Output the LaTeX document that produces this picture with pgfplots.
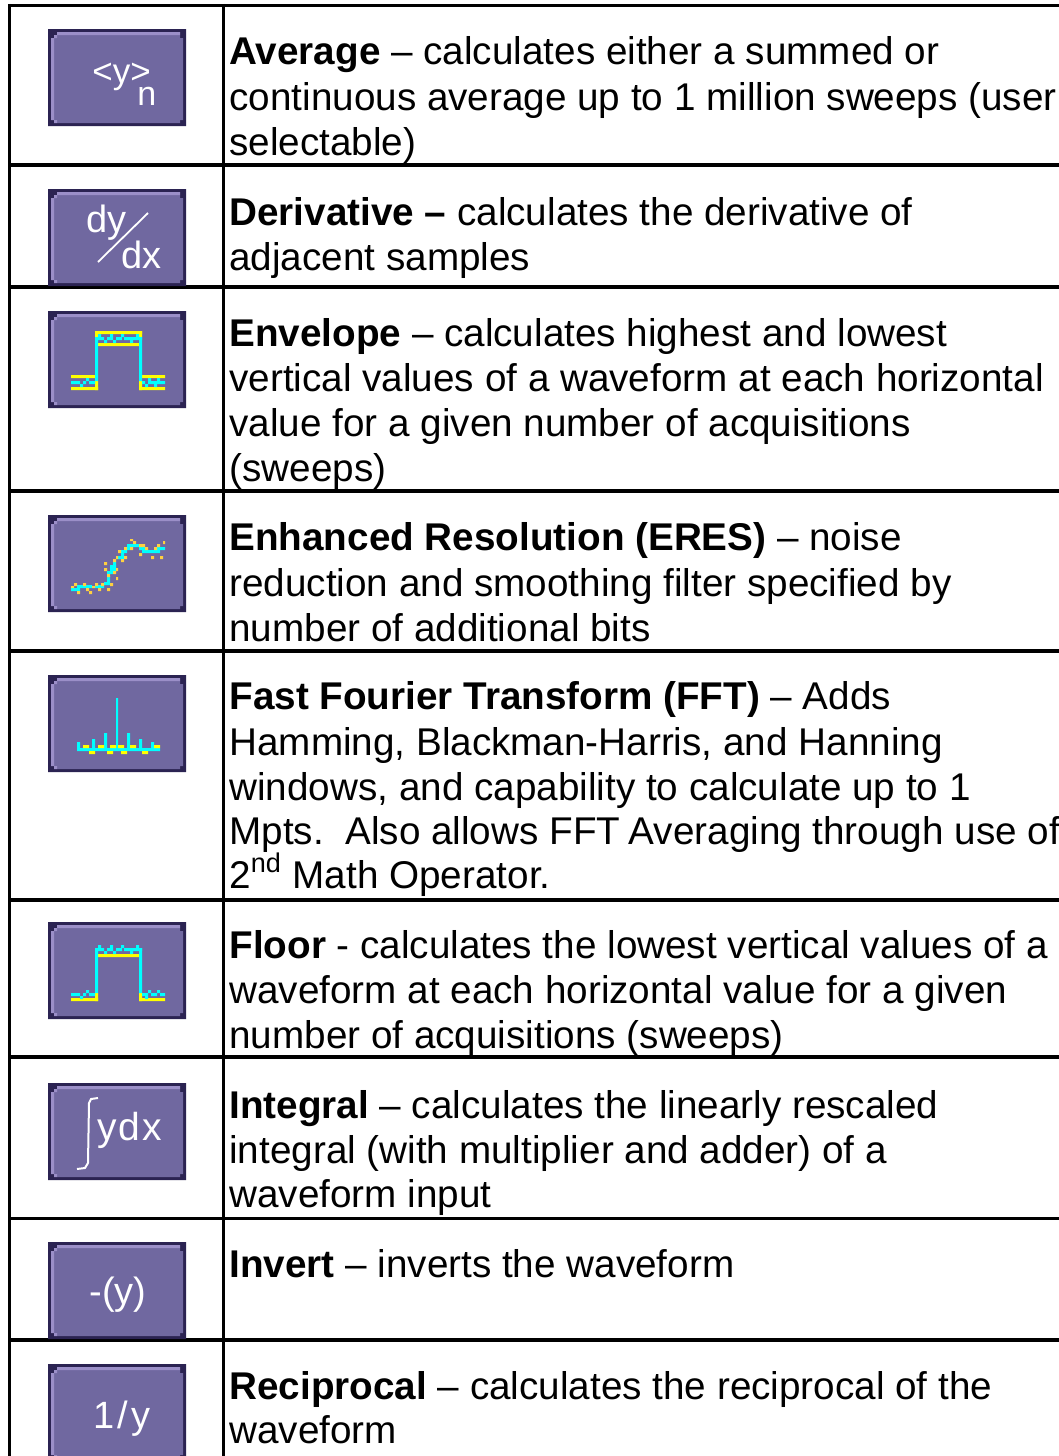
\documentclass[border=0pt]{standalone}
\usepackage{fontspec}
\setmainfont{Liberation Sans}
\usepackage{pgfplots}
\pgfplotsset{compat=1.18}
\definecolor{bdark}{RGB}{43,35,82}
\definecolor{blight}{RGB}{155,143,200}
\definecolor{bbody}{RGB}{112,104,160}
\definecolor{ccy}{RGB}{0,255,255}
\definecolor{cye}{RGB}{255,255,0}
\definecolor{cor}{RGB}{255,208,64}
\def\ox{0}\def\oy{0}\def\s{1}
\newcommand\R[5]{%
 \pgfmathsetmacro\xa{\ox+\s*#2}\pgfmathsetmacro\xb{\ox+\s*#3}%
 \pgfmathsetmacro\ya{\oy+\s*#4}\pgfmathsetmacro\yb{\oy+\s*#5}%
 \edef\temp{\noexpand\addplot[forget plot,draw=none,fill=#1] coordinates {(\xa,\ya)(\xb,\ya)(\xb,\yb)(\xa,\yb)(\xa,\ya)};}\temp}
\newcommand\Btn[1]{%
 \def\ox{0}\def\oy{#1}\def\s{1}%
 \R{bdark}{48}{186}{0}{97}%
 \R{bbody}{57}{180}{6}{9}%
 \R{bbody}{54}{183}{9}{91}%
 \R{bbody}{57}{180}{91}{94}%
 \R{blight}{57}{180}{3}{6}%
 \R{blight}{54}{57}{6}{9}%
 \R{blight}{51}{54}{9}{91}%
 \R{blight}{54}{57}{91}{94}%
}
\newcommand\TL[2]{\node[anchor=base west,inner sep=0pt,font=\fontsize{19.33pt}{22.5pt}\selectfont] at (axis cs:229,#1) {#2};}
\newcommand\IT[4]{\node[anchor=base west,inner sep=0pt,text=white,font=\fontsize{#3pt}{#3pt}\selectfont] at (axis cs:#1,#2) {#4};}
\pgfplotsset{tline/.style={forget plot,black,line width=1.75pt},wline/.style={forget plot,white,line width=0.9pt}}
\begin{document}
\begin{tikzpicture}
\useasboundingbox (0,0) rectangle (529.5pt,728pt);
\begin{axis}[at={(0,0)},anchor=south west,width=529.5pt,height=728pt,scale only axis,
 xmin=0,xmax=1059,ymin=0,ymax=1456,y dir=reverse,hide axis,clip=true]
% table rules
\addplot[tline] coordinates {(8,5.5)(1059,5.5)};
\addplot[tline] coordinates {(8,165)(1059,165)};
\addplot[tline] coordinates {(8,287)(1059,287)};
\addplot[tline] coordinates {(8,491)(1059,491)};
\addplot[tline] coordinates {(8,651)(1059,651)};
\addplot[tline] coordinates {(8,900)(1059,900)};
\addplot[tline] coordinates {(8,1057)(1059,1057)};
\addplot[tline] coordinates {(8,1218.5)(1059,1218.5)};
\addplot[tline] coordinates {(8,1340)(1059,1340)};
\addplot[tline] coordinates {(9.5,4)(9.5,1456)};
\addplot[tline] coordinates {(223.5,4)(223.5,1456)};
% buttons
\Btn{29}\Btn{189}\Btn{311}\Btn{515}\Btn{675}\Btn{922}\Btn{1083}\Btn{1242}\Btn{1364}
% icon 1
\IT{92}{83}{17.5}{<y>}
\IT{137}{105}{17}{n}
% icon 2
\IT{86}{232}{19}{dy}
\IT{121}{268}{19}{dx}
\addplot[wline] coordinates {(98,262)(148,213)};
% icon 3 envelope
\def\ox{30}\def\oy{300}\def\s{0.33333}
\R{cye}{195}{336}{93}{102}\R{cye}{195}{204}{93}{111}\R{cye}{327}{336}{93}{111}
\R{cye}{204}{327}{129}{138}
\R{cye}{123}{195}{225}{234}\R{cye}{123}{204}{261}{270}\R{cye}{195}{204}{243}{270}
\R{cye}{336}{405}{225}{234}\R{cye}{327}{405}{261}{270}\R{cye}{327}{336}{243}{270}
\R{ccy}{195}{204}{111}{243}\R{ccy}{327}{336}{111}{243}
\R{ccy}{204}{213}{102}{111}\R{ccy}{240}{249}{102}{111}\R{ccy}{273}{282}{102}{111}\R{ccy}{318}{327}{102}{111}
\R{ccy}{195}{222}{111}{120}\R{ccy}{231}{249}{111}{120}\R{ccy}{258}{276}{111}{120}\R{ccy}{282}{336}{111}{120}
\R{ccy}{222}{231}{120}{129}\R{ccy}{249}{258}{120}{129}\R{ccy}{300}{309}{120}{129}
\R{ccy}{168}{177}{234}{243}
\R{ccy}{123}{150}{243}{252}\R{ccy}{159}{168}{243}{252}\R{ccy}{177}{195}{243}{252}
\R{ccy}{150}{159}{252}{261}
\R{ccy}{354}{363}{234}{243}\R{ccy}{381}{390}{234}{243}
\R{ccy}{336}{345}{243}{252}\R{ccy}{354}{405}{243}{252}
\R{ccy}{345}{354}{252}{261}\R{ccy}{372}{381}{252}{261}
% icon 4 ERES
\R{ccy}{123}{150}{864}{873}\R{ccy}{141}{186}{855}{864}\R{ccy}{195}{222}{855}{864}
\R{ccy}{222}{240}{846}{855}\R{ccy}{231}{240}{828}{846}\R{ccy}{231}{249}{813}{822}
\R{ccy}{240}{258}{795}{813}\R{ccy}{249}{258}{786}{795}\R{ccy}{258}{273}{768}{777}
\R{ccy}{264}{282}{768}{777}\R{ccy}{273}{282}{750}{768}\R{ccy}{282}{291}{750}{759}
\R{ccy}{291}{300}{741}{750}\R{ccy}{291}{327}{732}{741}\R{ccy}{327}{345}{741}{750}
\R{ccy}{336}{390}{750}{759}\R{ccy}{381}{405}{741}{750}
\R{cor}{123}{132}{858}{864}\R{cor}{132}{141}{849}{858}\R{cor}{159}{168}{849}{858}
\R{cor}{141}{150}{873}{882}\R{cor}{168}{177}{864}{873}\R{cor}{177}{186}{873}{882}
\R{cor}{186}{195}{858}{864}\R{cor}{195}{204}{849}{858}\R{cor}{204}{213}{864}{873}
\R{cor}{213}{222}{849}{858}\R{cor}{231}{240}{864}{873}\R{cor}{240}{249}{849}{858}
\R{cor}{258}{264}{831}{840}\R{cor}{231}{240}{822}{831}\R{cor}{222}{231}{804}{813}
\R{cor}{222}{231}{786}{795}\R{cor}{249}{258}{813}{822}\R{cor}{258}{264}{804}{813}
\R{cor}{249}{258}{777}{786}\R{cor}{258}{264}{768}{777}\R{cor}{264}{273}{750}{759}
\R{cor}{273}{282}{777}{786}\R{cor}{282}{291}{768}{777}\R{cor}{282}{291}{741}{750}
\R{cor}{300}{309}{741}{750}\R{cor}{300}{309}{717}{723}\R{cor}{309}{318}{723}{732}
\R{cor}{327}{345}{732}{741}\R{cor}{327}{336}{759}{768}\R{cor}{345}{354}{741}{750}
\R{cor}{363}{372}{768}{777}\R{cor}{372}{381}{741}{750}\R{cor}{381}{390}{732}{741}
\R{cor}{390}{399}{768}{777}\R{cor}{399}{405}{723}{732}
% icon 5 FFT
\def\oy{660}
\R{ccy}{141}{390}{264}{273}
\R{ccy}{141}{150}{246}{264}\R{ccy}{186}{195}{237}{264}\R{ccy}{222}{231}{219}{264}
\R{ccy}{258}{264}{114}{264}\R{ccy}{291}{300}{219}{264}\R{ccy}{327}{336}{237}{264}\R{ccy}{363}{372}{246}{264}
\R{cye}{159}{177}{255}{264}\R{cye}{204}{222}{255}{264}\R{cye}{240}{258}{255}{264}
\R{cye}{264}{282}{255}{264}\R{cye}{300}{318}{255}{264}\R{cye}{372}{390}{255}{264}
\R{cye}{177}{195}{273}{282}\R{cye}{231}{249}{273}{282}\R{cye}{273}{291}{273}{282}\R{cye}{336}{354}{273}{282}
% icon 6 floor
\R{cye}{204}{327}{882}{891}
\R{cye}{123}{204}{1014}{1023}\R{cye}{195}{204}{999}{1023}
\R{cye}{327}{405}{1014}{1023}\R{cye}{327}{336}{999}{1023}
\R{ccy}{195}{204}{864}{999}\R{ccy}{327}{336}{864}{999}
\R{ccy}{204}{213}{855}{864}\R{ccy}{240}{249}{855}{864}\R{ccy}{273}{282}{855}{864}\R{ccy}{318}{327}{855}{864}
\R{ccy}{195}{222}{864}{873}\R{ccy}{231}{249}{864}{873}\R{ccy}{258}{276}{864}{873}\R{ccy}{282}{336}{864}{873}
\R{ccy}{222}{231}{873}{882}\R{ccy}{249}{258}{873}{882}\R{ccy}{300}{309}{873}{882}
\R{ccy}{168}{177}{990}{999}
\R{ccy}{123}{150}{999}{1008}\R{ccy}{159}{168}{999}{1008}\R{ccy}{177}{195}{999}{1008}
\R{ccy}{150}{159}{1008}{1017}
\R{ccy}{354}{363}{990}{999}\R{ccy}{381}{390}{990}{999}
\R{ccy}{336}{354}{999}{1008}\R{ccy}{363}{381}{999}{1008}\R{ccy}{390}{405}{999}{1008}
\R{ccy}{345}{354}{1008}{1017}
% icon 7 integral
\addplot[wline,line width=1pt] coordinates {(98,1098)(91,1099)(89,1103)(88,1163)(85,1168)(77,1169)};
\IT{97}{1140}{19.5}{y\kern1pt d\kern1pt x}
% icon 8 invert
\IT{89}{1304}{19}{-(y)}
% icon 9 reciprocal
\IT{93}{1428}{19}{1\kern1.5pt/\kern1.5pt y}
% text
\TL{64}{\textbf{Average} – calculates either a summed or}
\TL{110}{continuous average up to 1 million sweeps (user}
\TL{155}{selectable)}
\TL{225}{\textbf{Derivative –} calculates the derivative of}
\TL{270}{adjacent samples}
\TL{346}{\textbf{Envelope} – calculates highest and lowest}
\TL{391}{vertical values of a waveform at each horizontal}
\TL{436}{value for a given number of acquisitions}
\TL{481}{(sweeps)}
\TL{550}{\textbf{Enhanced Resolution (ERES)} – noise}
\TL{596}{reduction and smoothing filter specified by}
\TL{641}{number of additional bits}
\TL{709}{\textbf{Fast Fourier Transform (FFT)} – Adds}
\TL{755}{Hamming, Blackman-Harris, and Hanning}
\TL{800}{windows, and capability to calculate up to 1}
\TL{844}{Mpts.\ \ Also allows FFT\kern-1.2pt\ Averaging through use of}
\TL{888}{2\textsuperscript{nd} Math Operator.}
\TL{958}{\textbf{Floor} - calculates the lowest vertical values of a}
\TL{1003}{waveform at each horizontal value for a given}
\TL{1048}{number of acquisitions (sweeps)}
\TL{1118}{\textbf{Integral} – calculates the linearly rescaled}
\TL{1163}{integral (with multiplier and adder) of a}
\TL{1207}{waveform input}
\TL{1277}{\textbf{Invert} – inverts the waveform}
\TL{1399}{\textbf{Reciprocal} – calculates the reciprocal of the}
\TL{1443}{waveform}
\end{axis}
\end{tikzpicture}
\end{document}
